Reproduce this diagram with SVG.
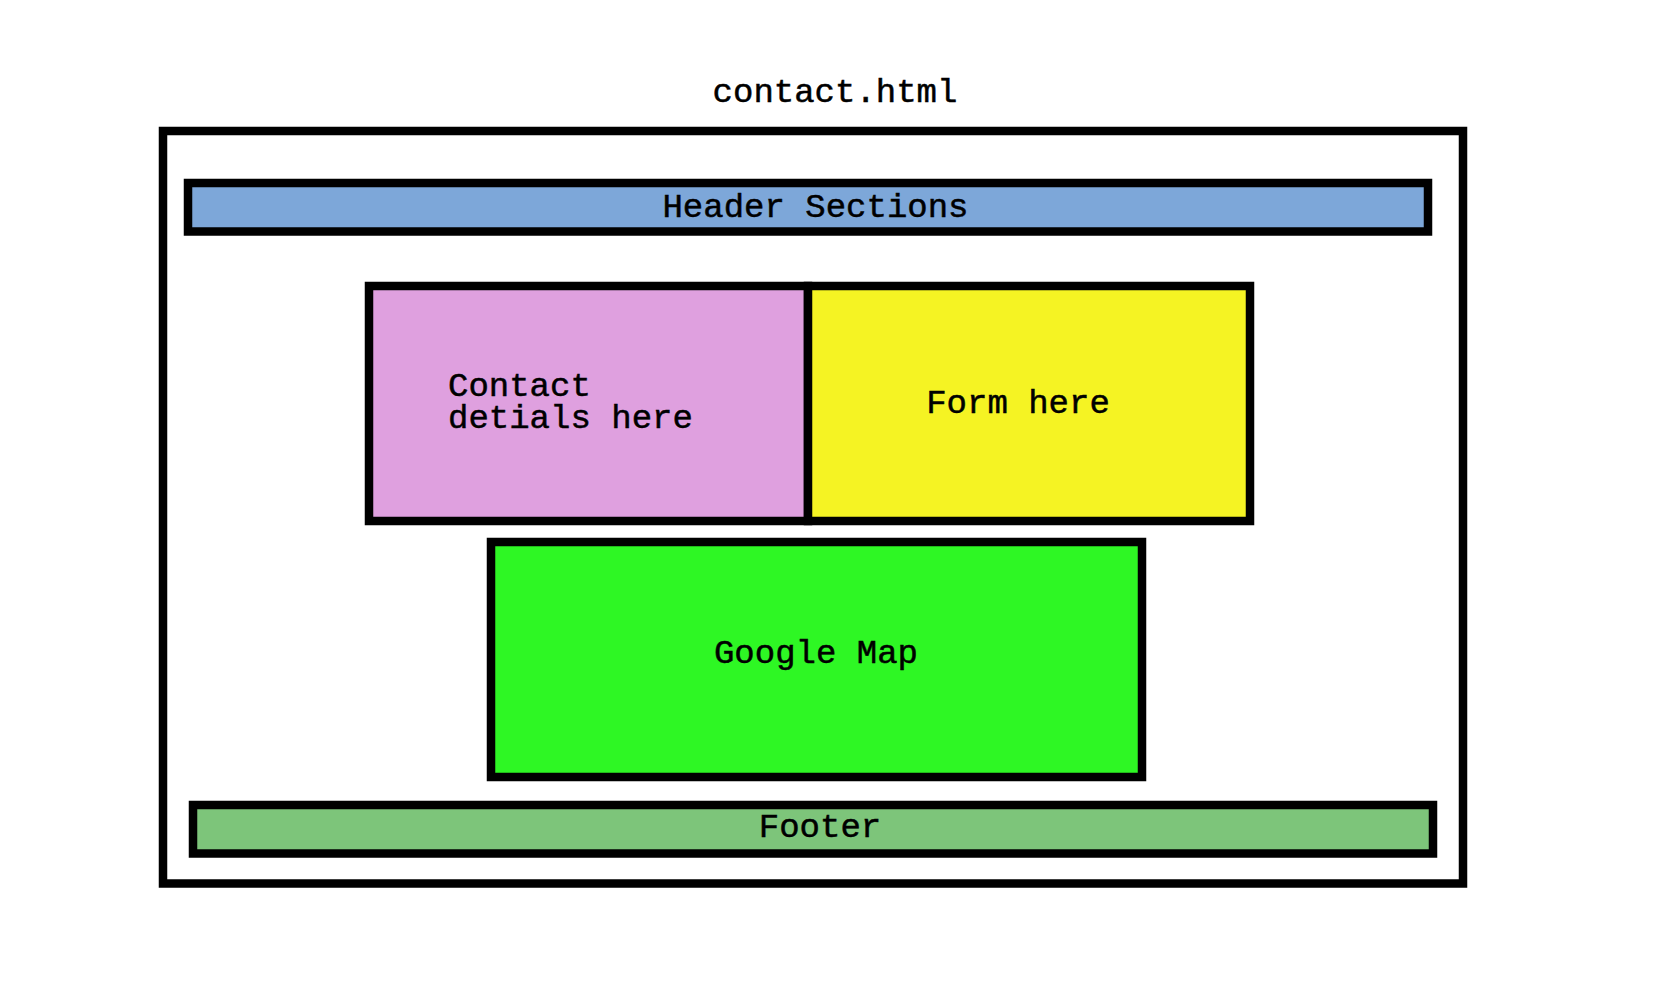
<svg xmlns="http://www.w3.org/2000/svg" width="1654" height="1004" viewBox="0 0 1654 1004">
<style>
.box{stroke:#000;stroke-width:8.5}
.t{font-family:"Liberation Mono","Courier New",monospace;font-size:34px;fill:#000;stroke:#000;stroke-width:0.5}
.c{text-anchor:middle}
</style>
<rect width="1654" height="1004" fill="#fff"/>
<g id="page">
<rect class="box" x="163" y="131" width="1300" height="752.5" fill="#fff"/>
<text class="t c" x="835" y="102">contact.html</text>
</g>
<g id="header">
<rect class="box" x="188" y="183" width="1240" height="48.5" fill="#7DA7D9"/>
<text class="t c" x="815.5" y="217">Header Sections</text>
</g>
<g id="contact">
<rect class="box" x="369" y="286" width="439" height="235" fill="#DFA0DF"/>
<text class="t" x="448" y="396">Contact</text>
<text class="t" x="448" y="428">detials here</text>
</g>
<g id="form">
<rect class="box" x="808" y="286" width="442" height="235" fill="#F5F323"/>
<text class="t c" x="1018" y="413">Form here</text>
</g>
<g id="map">
<rect class="box" x="491" y="542" width="651" height="235" fill="#2EF724"/>
<text class="t c" x="816" y="663">Google Map</text>
</g>
<g id="footer">
<rect class="box" x="193" y="805" width="1240" height="48.5" fill="#7DC57A"/>
<text class="t c" x="820" y="837">Footer</text>
</g>
<g id="connectors"/>
</svg>
